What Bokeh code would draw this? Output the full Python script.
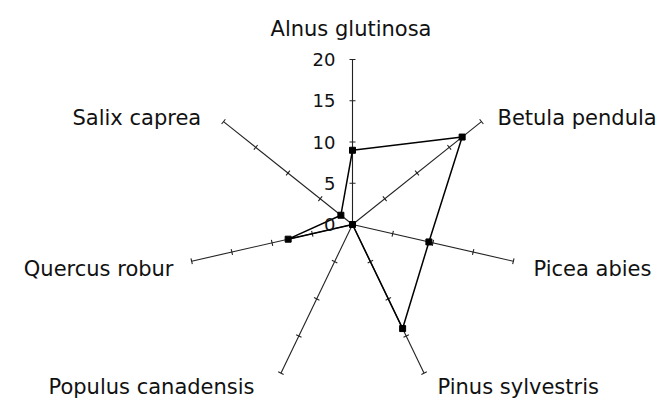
import numpy as np
from bokeh.plotting import figure
from bokeh.models import Range1d
from bokeh.embed import file_html
from bokeh.resources import INLINE
from bokeh.core.properties import value

# Radar chart: one series over seven tree species
species = ["Alnus glutinosa", "Betula pendula", "Picea abies", "Pinus sylvestris",
           "Populus canadensis", "Quercus robur", "Salix caprea"]
values = [9, 17, 9.5, 14, 0, 8, 1.8]
tick_values = [0, 5, 10, 15, 20]
r_max = 20

# Layout: pixels per data unit and the centre of the star in screen pixels
PX = 8.25
W, H = 665, 399
CX, CY = 352, 224

p = figure(width=W, height=H,
           x_range=Range1d(-CX / PX, (W - CX) / PX),
           y_range=Range1d(-(H - CY) / PX, CY / PX),
           x_axis_type=None, y_axis_type=None,
           output_backend="svg", toolbar_location=None, min_border=0)
p.grid.visible = False
p.outline_line_color = None
p.background_fill_color = "white"
p.border_fill_color = "white"

n = len(species)
theta = np.pi / 2 - np.arange(n) * 2 * np.pi / n
ux, uy = np.cos(theta), np.sin(theta)

# Spokes
p.segment(x0=np.zeros(n), y0=np.zeros(n), x1=ux * r_max, y1=uy * r_max,
          line_color="#222222", line_width=1.1)

# Tick marks across each spoke
half = 3.0 / PX
tx0, ty0, tx1, ty1 = [], [], [], []
for k in range(n):
    px_, py_ = -uy[k], ux[k]
    for t in tick_values[1:]:
        bx, by = ux[k] * t, uy[k] * t
        tx0.append(bx - px_ * half); ty0.append(by - py_ * half)
        tx1.append(bx + px_ * half); ty1.append(by + py_ * half)
p.segment(x0=tx0, y0=ty0, x1=tx1, y1=ty1, line_color="#222222", line_width=1.1)

# Data polygon
vals = np.array(values, dtype=float)
xs = list(ux * vals) + [ux[0] * vals[0]]
ys = list(uy * vals) + [uy[0] * vals[0]]
p.line(xs, ys, line_color="black", line_width=1.5)
p.scatter(ux * vals, uy * vals, marker="square", size=6,
          fill_color="black", line_color="black")

# Radial scale labels next to the vertical spoke
p.text(x=[(335 - CX) / PX] * len(tick_values), y=tick_values,
       text=[str(t) for t in tick_values],
       text_font=value("DejaVu Sans"), text_font_size="18px",
       text_align="right", text_baseline="middle", text_color="#111111")

# Species labels (anchor pixel, alignment)
label_px = [(350.5, 28, "center"), (497, 117, "left"), (533, 268, "left"),
            (437, 386, "left"), (48, 386, "left"), (173, 268, "right"),
            (72, 117, "left")]
for name, (lx, ly, al) in zip(species, label_px):
    p.text(x=[(lx - CX) / PX], y=[(CY - ly) / PX], text=[name],
           text_font=value("DejaVu Sans"), text_font_size="21px",
           text_align=al, text_baseline="alphabetic", text_color="#111111")

open("out.html", "w").write(file_html(p, INLINE))
